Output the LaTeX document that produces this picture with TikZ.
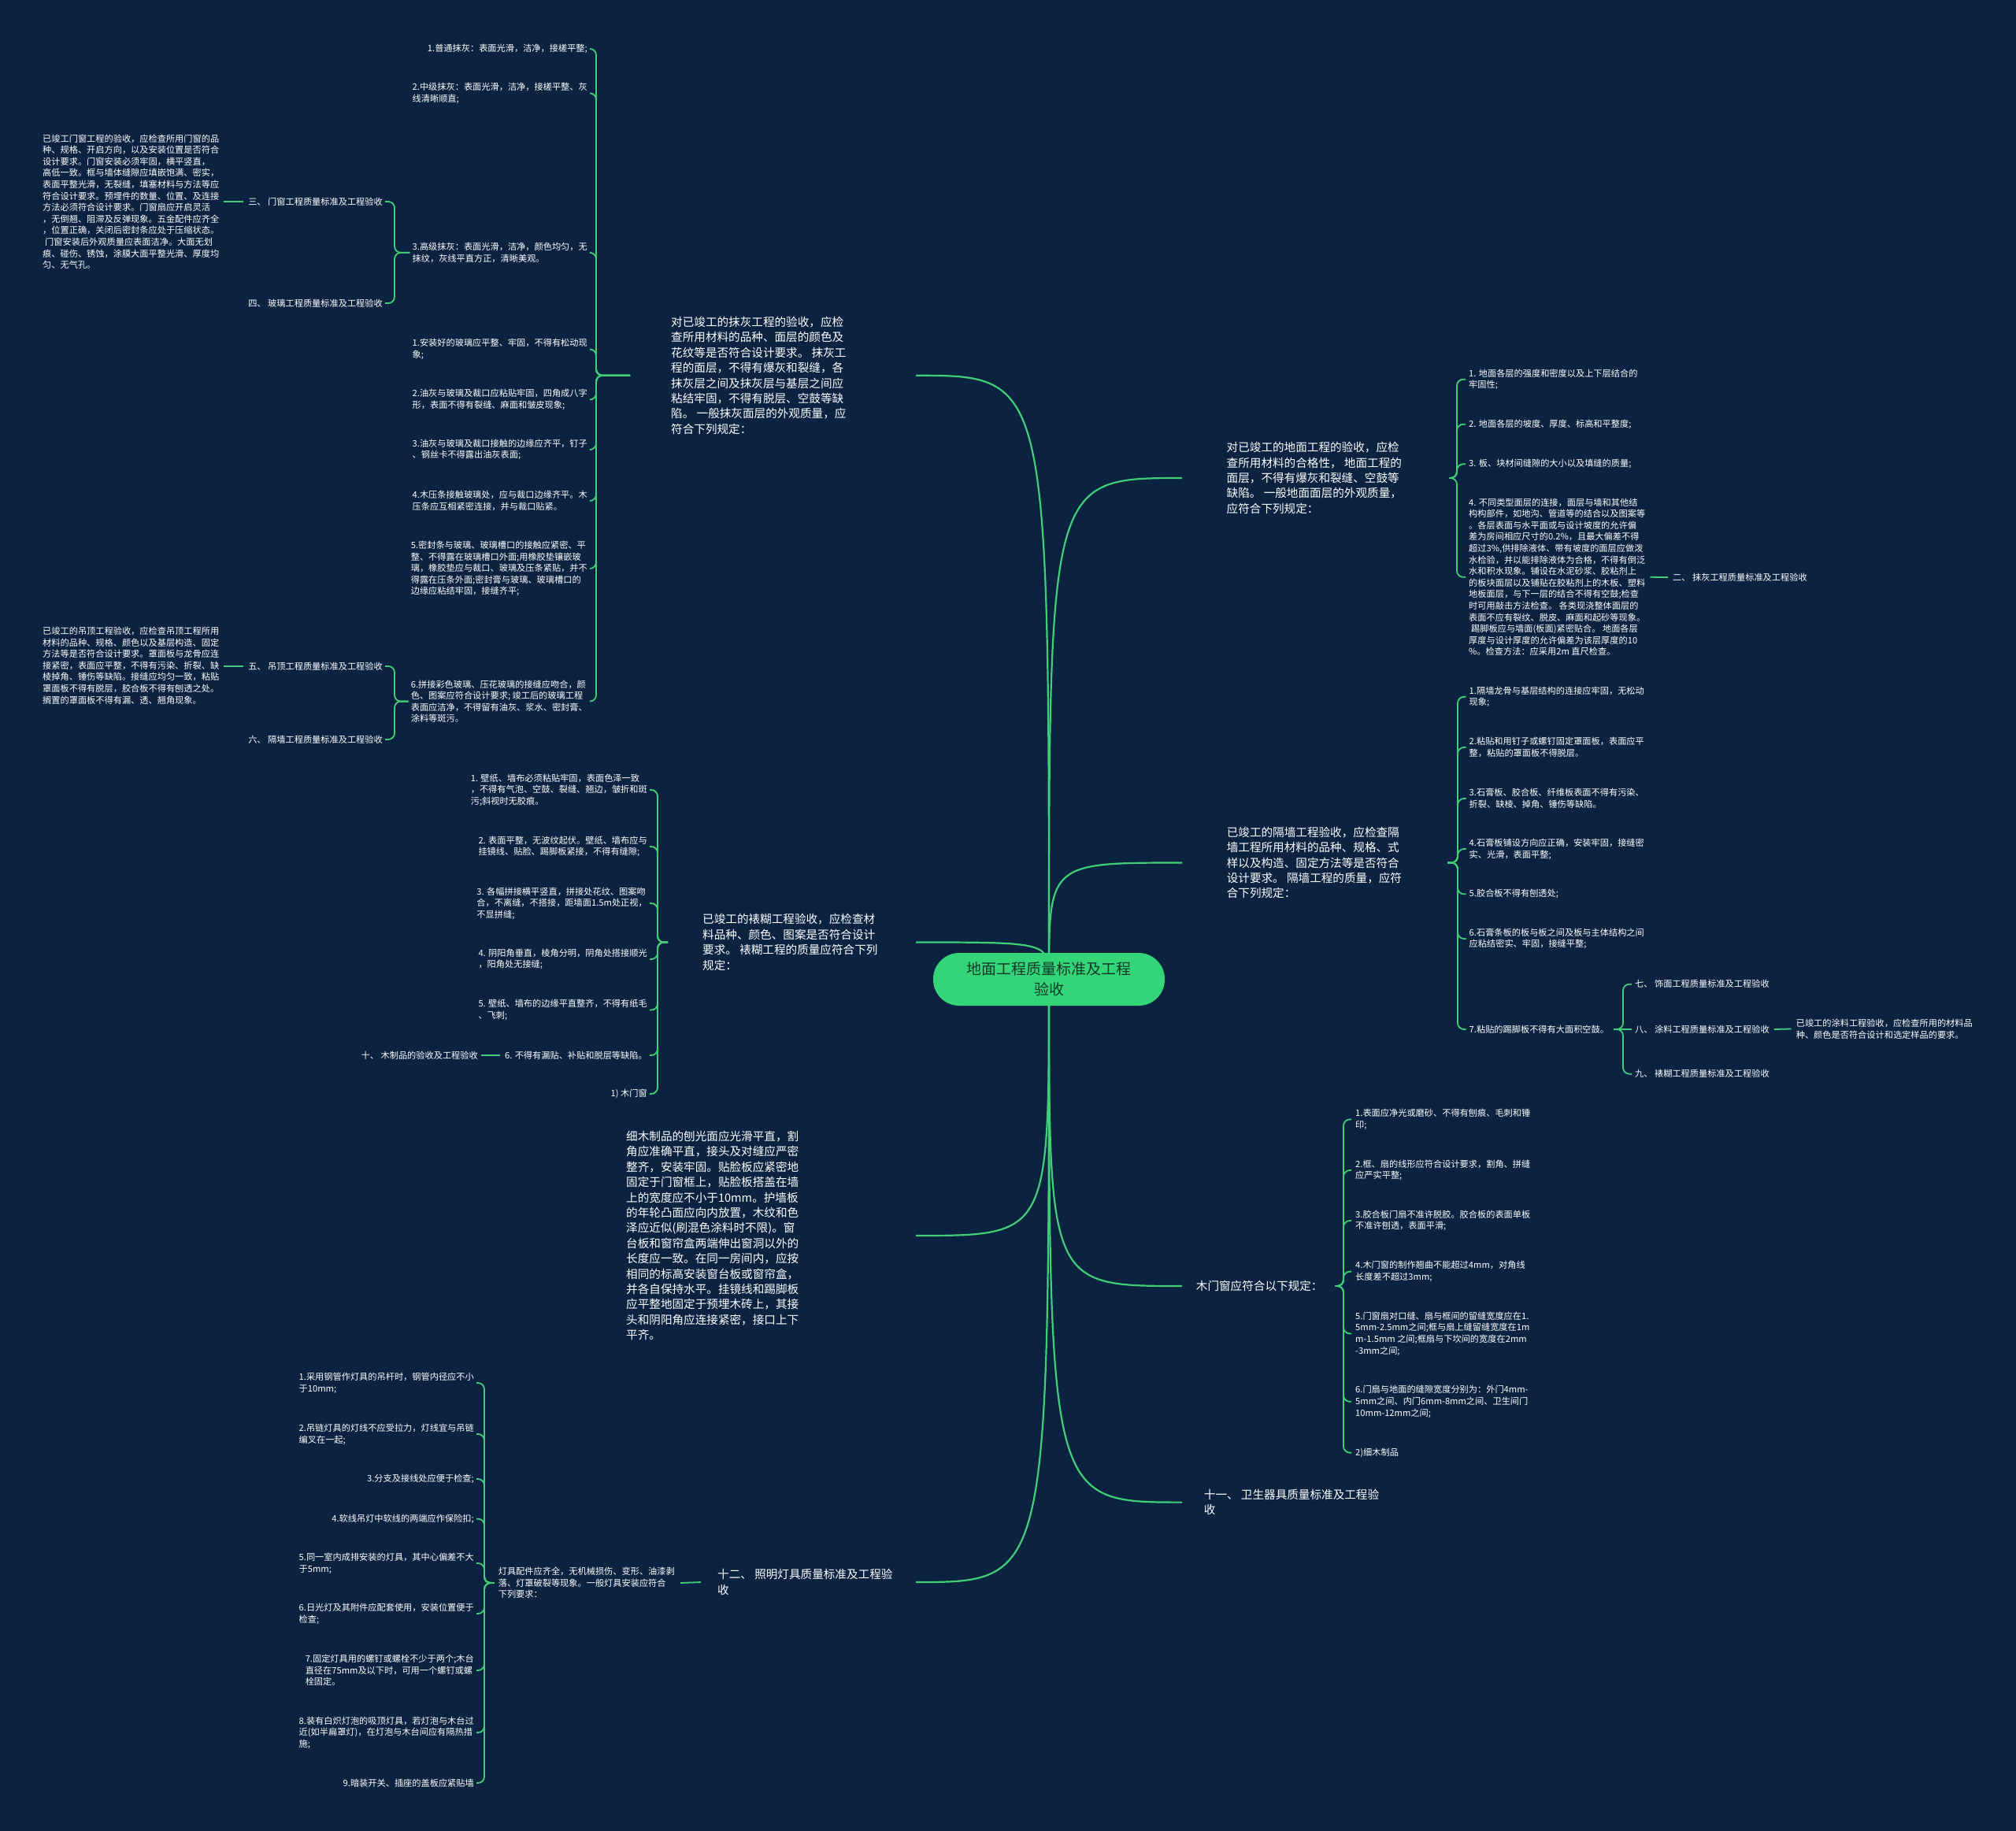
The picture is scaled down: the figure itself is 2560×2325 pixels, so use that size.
\documentclass[tikz,border=0pt]{standalone}
\usepackage{fontspec}
\newfontfamily\cjk{Noto Sans CJK SC}
\usetikzlibrary{calc}
\definecolor{bgc}{RGB}{11,35,64}
\definecolor{lnc}{RGB}{66,206,118}
\definecolor{ctrc}{RGB}{52,212,120}
\definecolor{ctrt}{RGB}{18,58,40}
\pgfdeclarelayer{bg}
\pgfsetlayers{bg,main}
\tikzset{
  sm/.style={inner sep=0pt, align=left, text=white, font=\cjk\fontsize{11.2}{14.6}\selectfont},
  md/.style={inner sep=0pt, align=left, text=white, font=\cjk\fontsize{14.6}{19.4}\selectfont},
  ctrbox/.style={inner sep=0pt, align=center, fill=ctrc, text=ctrt, rounded corners=33pt,
     minimum width=294pt, minimum height=67pt, font=\cjk\fontsize{19}{26}\selectfont},
  mainln/.style={draw=lnc, line width=2.2pt},
  brln/.style={draw=lnc, line width=1.8pt, rounded corners=8pt},
}
\newcommand\brak[3]{\draw[brln] (#1) -- (#1 -| #2) -- (#2 |- #3) -- (#3);}
\begin{document}
\begin{tikzpicture}[x=1pt,y=-1pt]
\useasboundingbox (0,0) rectangle (2560,2325);

% ---------- centre ----------
\node[ctrbox] (ctr) at (1332,1243.5) {地面工程质量标准及工程\\验收};

% ---------- A : 抹灰 ----------
\node[md, anchor=west] (A) at (852,476.8) {对已竣工的抹灰工程的验收，应检\\查所用材料的品种、面层的颜色及\\花纹等是否符合设计要求。 抹灰工\\程的面层，不得有爆灰和裂缝，各\\抹灰层之间及抹灰层与基层之间应\\粘结牢固，不得有脱层、空鼓等缺\\陷。 一般抹灰面层的外观质量，应\\符合下列规定：};
\coordinate (Ar) at ([xshift=311pt]A.west);
\coordinate (Al) at ([xshift=-52pt]A.west);
\coordinate (Abx) at (757,0);
\node[sm, anchor=east] (A1) at (746,62) {1.普通抹灰：表面光滑，洁净，接槎平整;};
\node[sm, anchor=east] (A2) at (746,118.4) {2.中级抹灰：表面光滑，洁净，接槎平整、灰\\线清晰顺直;};
\node[sm, anchor=east] (A3) at (746,320.8) {3.高级抹灰：表面光滑，洁净，颜色均匀，无\\抹纹，灰线平直方正，清晰美观。};
\node[sm, anchor=east] (A4) at (746,443.5) {1.安装好的玻璃应平整、牢固，不得有松动现\\象;};
\node[sm, anchor=east] (A5) at (746,507.5) {2.油灰与玻璃及裁口应粘贴牢固，四角成八字\\形，表面不得有裂缝、麻面和皱皮现象;};
\node[sm, anchor=east] (A6) at (746,571) {3.油灰与玻璃及裁口接触的边缘应齐平，钉子\\、钢丝卡不得露出油灰表面;};
\node[sm, anchor=east] (A7) at (746,636) {4.木压条接触玻璃处，应与裁口边缘齐平。木\\压条应互相紧密连接，并与裁口贴紧。};
\node[sm, anchor=east] (A8) at (746,722) {5.密封条与玻璃、玻璃槽口的接触应紧密、平\\整、不得露在玻璃槽口外面;用橡胶垫镶嵌玻\\璃，橡胶垫应与裁口、玻璃及压条紧贴，并不\\得露在压条外面;密封膏与玻璃、玻璃槽口的\\边缘应粘结牢固，接缝齐平;};
\node[sm, anchor=east] (A9) at (746,890.6) {6.拼接彩色玻璃、压花玻璃的接缝应吻合，颜\\色、图案应符合设计要求; 竣工后的玻璃工程\\表面应洁净，不得留有油灰、浆水、密封膏、\\涂料等斑污。};
\foreach \n in {A1,A2,A3,A4,A5,A6,A7,A8,A9} {\coordinate (\n-e) at ([xshift=3pt]\n.east);}

% A3 children
\coordinate (A3l) at ([xshift=-3pt]A3.west);
\coordinate (A3bx) at (501,0);
\node[sm, anchor=east] (S3) at (486,256) {三、 门窗工程质量标准及工程验收};
\node[sm, anchor=east] (S4) at (486,385) {四、 玻璃工程质量标准及工程验收};
\coordinate (S3-e) at ([xshift=3pt]S3.east);
\coordinate (S4-e) at ([xshift=3pt]S4.east);
\node[sm, anchor=west] (M) at (54,256) {已竣工门窗工程的验收，应检查所用门窗的品\\种、规格、开启方向，以及安装位置是否符合\\设计要求。门窗安装必须牢固，横平竖直，\\高低一致。框与墙体缝隙应填嵌饱满、密实，\\表面平整光滑，无裂缝，填塞材料与方法等应\\符合设计要求。预埋件的数量、位置、及连接\\方法必须符合设计要求。门窗扇应开启灵活\\，无倒翘、阻滞及反弹现象。五金配件应齐全\\，位置正确，关闭后密封条应处于压缩状态。\\\hspace*{3pt}门窗安装后外观质量应表面洁净。大面无划\\痕、碰伤、锈蚀，涂膜大面平整光滑、厚度均\\匀、无气孔。};

% A9 children
\coordinate (A9l) at ([xshift=-3pt]A9.west);
\coordinate (A9bx) at (501,0);
\node[sm, anchor=east] (S5) at (486,846) {五、 吊顶工程质量标准及工程验收};
\node[sm, anchor=east] (S6) at (486,939) {六、 隔墙工程质量标准及工程验收};
\coordinate (S5-e) at ([xshift=3pt]S5.east);
\coordinate (S6-e) at ([xshift=3pt]S6.east);
\node[sm, anchor=west] (N) at (54,845) {已竣工的吊顶工程验收，应检查吊顶工程所用\\材料的品种、规格、颜色以及基层构造、固定\\方法等是否符合设计要求。罩面板与龙骨应连\\接紧密，表面应平整，不得有污染、折裂、缺\\棱掉角、锤伤等缺陷。接缝应均匀一致，粘贴\\罩面板不得有脱层，胶合板不得有刨透之处。\\搁置的罩面板不得有漏、透、翘角现象。};

% ---------- B : 裱糊 ----------
\node[md, anchor=west] (B) at (892,1196.5) {已竣工的裱糊工程验收，应检查材\\料品种、颜色、图案是否符合设计\\要求。 裱糊工程的质量应符合下列\\规定：};
\coordinate (Br) at ([xshift=271pt]B.west);
\coordinate (Bl) at ([xshift=-44pt]B.west);
\coordinate (Bbx) at (835,0);
\node[sm, anchor=east] (B1) at (822,1003) {1. 壁纸、墙布必须粘贴牢固，表面色泽一致\\，不得有气泡、空鼓、裂缝、翘边，皱折和斑\\污;斜视时无胶痕。};
\node[sm, anchor=east] (B2) at (822,1075) {2. 表面平整，无波纹起伏。壁纸、墙布应与\\挂镜线、贴脸、踢脚板紧接，不得有缝隙;};
\node[sm, anchor=east] (B3) at (822,1147) {3. 各幅拼接横平竖直，拼接处花纹、图案吻\\合，不离缝，不搭接，距墙面1.5m处正视，\\不显拼缝;};
\node[sm, anchor=east] (B4) at (822,1218) {4. 阴阳角垂直，棱角分明，阴角处搭接顺光\\，阳角处无接缝;};
\node[sm, anchor=east] (B5) at (822,1282.5) {5. 壁纸、墙布的边缘平直整齐，不得有纸毛\\、飞刺;};
\node[sm, anchor=east] (B6) at (822,1340) {6. 不得有漏贴、补贴和脱层等缺陷。};
\node[sm, anchor=east] (B7) at (822,1389) {1) 木门窗};
\foreach \n in {B1,B2,B3,B4,B5,B6,B7} {\coordinate (\n-e) at ([xshift=3pt]\n.east);}
\node[sm, anchor=east] (T10) at (607,1340) {十、 木制品的验收及工程验收};

% ---------- C : 细木制品 ----------
\node[md, anchor=west] (C) at (795,1569) {细木制品的刨光面应光滑平直，割\\角应准确平直，接头及对缝应严密\\整齐，安装牢固。贴脸板应紧密地\\固定于门窗框上，贴脸板搭盖在墙\\上的宽度应不小于10mm。护墙板\\的年轮凸面应向内放置，木纹和色\\泽应近似(刷混色涂料时不限)。窗\\台板和窗帘盒两端伸出窗洞以外的\\长度应一致。在同一房间内，应按\\相同的标高安装窗台板或窗帘盒，\\并各自保持水平。挂镜线和踢脚板\\应平整地固定于预埋木砖上，其接\\头和阴阳角应连接紧密，接口上下\\平齐。};
\coordinate (Cr) at ([xshift=368pt]C.west);

% ---------- D : 照明灯具 ----------
\node[md, anchor=west] (D) at (911,2009) {十二、 照明灯具质量标准及工程验\\收};
\coordinate (Dr) at ([xshift=252pt]D.west);
\node[sm, anchor=west] (D0) at (632.6,2010) {灯具配件应齐全，无机械损伤、变形、油漆剥\\落、灯罩破裂等现象。一般灯具安装应符合\\下列要求：};
\coordinate (D0l) at ([xshift=-5pt]D0.west);
\coordinate (Dbx) at (615,0);
\node[sm, anchor=east] (D1) at (602,1756) {1.采用钢管作灯具的吊杆时，钢管内径应不小\\于10mm;};
\node[sm, anchor=east] (D2) at (602,1821) {2.吊链灯具的灯线不应受拉力，灯线宜与吊链\\编叉在一起;};
\node[sm, anchor=east] (D3) at (602,1878) {3.分支及接线处应便于检查;};
\node[sm, anchor=east] (D4) at (602,1928.6) {4.软线吊灯中软线的两端应作保险扣;};
\node[sm, anchor=east] (D5) at (602,1985) {5.同一室内成排安装的灯具，其中心偏差不大\\于5mm;};
\node[sm, anchor=east] (D6) at (602,2049) {6.日光灯及其附件应配套使用，安装位置便于\\检查;};
\node[sm, anchor=east] (D7) at (602,2121) {7.固定灯具用的螺钉或螺栓不少于两个;木台\\直径在75mm及以下时，可用一个螺钉或螺\\栓固定。};
\node[sm, anchor=east] (D8) at (602,2200) {8.装有白炽灯泡的吸顶灯具，若灯泡与木台过\\近(如半扁罩灯)，在灯泡与木台间应有隔热措\\施;};
\node[sm, anchor=east] (D9) at (602,2264) {9.暗装开关、插座的盖板应紧贴墙};
\foreach \n in {D1,D2,D3,D4,D5,D6,D7,D8,D9} {\coordinate (\n-e) at ([xshift=3pt]\n.east);}

% ---------- E : 地面 ----------
\node[md, anchor=west] (E) at (1557.5,607) {对已竣工的地面工程的验收，应检\\查所用材料的合格性， 地面工程的\\面层，不得有爆灰和裂缝、空鼓等\\缺陷。 一般地面面层的外观质量，\\应符合下列规定：};
\coordinate (El) at ([xshift=-56.5pt]E.west);
\coordinate (Er) at ([xshift=282.5pt]E.west);
\coordinate (Ebx) at (1850,0);
\node[sm, anchor=west] (E1) at (1865,481.7) {1. 地面各层的强度和密度以及上下层结合的\\牢固性;};
\node[sm, anchor=west] (E2) at (1865,538.7) {2. 地面各层的坡度、厚度、标高和平整度;};
\node[sm, anchor=west] (E3) at (1865,589.3) {3. 板、块材间缝隙的大小以及填缝的质量;};
\node[sm, anchor=west] (E4) at (1865,732.8) {4. 不同类型面层的连接，面层与墙和其他结\\构构部件，如地沟、管道等的结合以及图案等\\。各层表面与水平面或与设计坡度的允许偏\\差为房间相应尺寸的0.2\%，且最大偏差不得\\超过3\%,供排除液体、带有坡度的面层应做泼\\水检验，并以能排除液体为合格，不得有倒泛\\水和积水现象。铺设在水泥砂浆、胶粘剂上\\的板块面层以及铺贴在胶粘剂上的木板、塑料\\地板面层，与下一层的结合不得有空鼓;检查\\时可用敲击方法检查。 各类现浇整体面层的\\表面不应有裂纹、脱皮、麻面和起砂等现象。\\\hspace*{3pt}踢脚板应与墙面(板面)紧密贴合。 地面各层\\厚度与设计厚度的允许偏差为该层厚度的10\\\%。检查方法：应采用2m 直尺检查。};
\foreach \n in {E1,E2,E3,E4} {\coordinate (\n-w) at ([xshift=-4pt]\n.west);}
\node[sm, anchor=west] (S2) at (2124,733) {二、 抹灰工程质量标准及工程验收};

% ---------- F : 隔墙 ----------
\node[md, anchor=west] (F) at (1557.6,1095.5) {已竣工的隔墙工程验收，应检查隔\\墙工程所用材料的品种、规格、式\\样以及构造、固定方法等是否符合\\设计要求。 隔墙工程的质量，应符\\合下列规定：};
\coordinate (Fl) at ([xshift=-56.6pt]F.west);
\coordinate (Fr) at ([xshift=280.4pt]F.west);
\coordinate (Fbx) at (1851,0);
\node[sm, anchor=west] (F1) at (1865.5,884.8) {1.隔墙龙骨与基层结构的连接应牢固，无松动\\现象;};
\node[sm, anchor=west] (F2) at (1865.5,949) {2.粘贴和用钉子或螺钉固定罩面板，表面应平\\整，粘贴的罩面板不得脱层。};
\node[sm, anchor=west] (F3) at (1865.5,1014) {3.石膏板、胶合板、纤维板表面不得有污染、\\折裂、缺棱、掉角、锤伤等缺陷。};
\node[sm, anchor=west] (F4) at (1865.5,1078) {4.石膏板铺设方向应正确，安装牢固，接缝密\\实、光滑，表面平整;};
\node[sm, anchor=west] (F5) at (1865.5,1135.3) {5.胶合板不得有刨透处;};
\node[sm, anchor=west] (F6) at (1865.5,1192) {6.石膏条板的板与板之间及板与主体结构之间\\应粘结密实、牢固，接缝平整;};
\node[sm, anchor=west] (F7) at (1865.5,1307) {7.粘贴的踢脚板不得有大面积空鼓。};
\foreach \n in {F1,F2,F3,F4,F5,F6,F7} {\coordinate (\n-w) at ([xshift=-4pt]\n.west);}
\coordinate (F7r) at ([xshift=6pt]F7.east);
\coordinate (F7bx) at (2061,0);
\node[sm, anchor=west] (G1) at (2076,1249.7) {七、 饰面工程质量标准及工程验收};
\node[sm, anchor=west] (G2) at (2076,1307) {八、 涂料工程质量标准及工程验收};
\node[sm, anchor=west] (G3) at (2076,1363.7) {九、 裱糊工程质量标准及工程验收};
\foreach \n in {G1,G2,G3} {\coordinate (\n-w) at ([xshift=-4pt]\n.west);}
\node[sm, anchor=west] (G2c) at (2280.6,1306.5) {已竣工的涂料工程验收，应检查所用的材料品\\种、颜色是否符合设计和选定样品的要求。};

% ---------- H : 木门窗 ----------
\node[md, anchor=west] (H) at (1518.7,1633) {木门窗应符合以下规定：};
\coordinate (Hl) at ([xshift=-17.7pt]H.west);
\coordinate (Hr) at ([xshift=177pt]H.west);
\coordinate (Hbx) at (1706,0);
\node[sm, anchor=west] (H1) at (1721,1421.4) {1.表面应净光或磨砂、不得有刨痕、毛刺和锤\\印;};
\node[sm, anchor=west] (H2) at (1721,1486) {2.框、扇的线形应符合设计要求，割角、拼缝\\应严实平整;};
\node[sm, anchor=west] (H3) at (1721,1550) {3.胶合板门扇不准许脱胶。胶合板的表面单板\\不准许刨透，表面平滑;};
\node[sm, anchor=west] (H4) at (1721,1614.6) {4.木门窗的制作翘曲不能超过4mm，对角线\\长度差不超过3mm;};
\node[sm, anchor=west] (H5) at (1721,1693.4) {5.门窗扇对口缝、扇与框间的留缝宽度应在1.\\5mm-2.5mm之间;框与扇上缝留缝宽度在1m\\m-1.5mm 之间;框扇与下坎间的宽度在2mm\\-3mm之间;};
\node[sm, anchor=west] (H6) at (1721,1779.8) {6.门扇与地面的缝隙宽度分别为：外门4mm-\\5mm之间、内门6mm-8mm之间、卫生间门\\10mm-12mm之间;};
\node[sm, anchor=west] (H7) at (1721,1844.6) {2)细木制品};
\foreach \n in {H1,H2,H3,H4,H5,H6,H7} {\coordinate (\n-w) at ([xshift=-5pt]\n.west);}

% ---------- I : 卫生器具 ----------
\node[md, anchor=west] (I) at (1528.7,1907.6) {十一、 卫生器具质量标准及工程验\\收};
\coordinate (Il) at ([xshift=-27.7pt]I.west);

% ---------- connectors ----------
\begin{pgfonlayer}{bg}
\fill[bgc] (0,0) rectangle (2560,2325);
% centre to level 1
\foreach \t in {Ar,Br,Cr,Dr,El,Fl,Hl,Il}
  {\draw[mainln] (ctr.center) .. controls (ctr.center |- \t) .. (\t);}
% brackets
\foreach \n in {A1,A2,A3,A4,A5,A6,A7,A8,A9} {\brak{Al}{Abx}{\n-e}}
\foreach \n in {S3,S4} {\brak{A3l}{A3bx}{\n-e}}
\foreach \n in {S5,S6} {\brak{A9l}{A9bx}{\n-e}}
\draw[brln] ([xshift=6pt]M.east) -- ([xshift=-6pt]S3.west);
\draw[brln] ([xshift=6pt]N.east |- S5.west) -- ([xshift=-6pt]S5.west);
\foreach \n in {B1,B2,B3,B4,B5,B6,B7} {\brak{Bl}{Bbx}{\n-e}}
\draw[brln] ([xshift=4pt]T10.east) -- ([xshift=-6pt]B6.west);
\draw[brln] ([xshift=7pt]D0.east) -- ([xshift=-21pt]D.west);
\foreach \n in {D1,D2,D3,D4,D5,D6,D7,D8,D9} {\brak{D0l}{Dbx}{\n-e}}
\foreach \n in {E1,E2,E3,E4} {\brak{Er}{Ebx}{\n-w}}
\draw[brln] ([xshift=6pt]E4.east) -- ([xshift=-6pt]S2.west);
\foreach \n in {F1,F2,F3,F4,F5,F6,F7} {\brak{Fr}{Fbx}{\n-w}}
\brak{F7r}{F7bx}{G1-w}
\brak{F7r}{F7bx}{G3-w}
\draw[brln] (F7r) -- (G2-w);
\draw[brln] ([xshift=6pt]G2.east) -- ([xshift=-6pt]G2c.west);
\foreach \n in {H1,H2,H3,H4,H5,H6,H7} {\brak{Hr}{Hbx}{\n-w}}
\end{pgfonlayer}
\end{tikzpicture}
\end{document}
